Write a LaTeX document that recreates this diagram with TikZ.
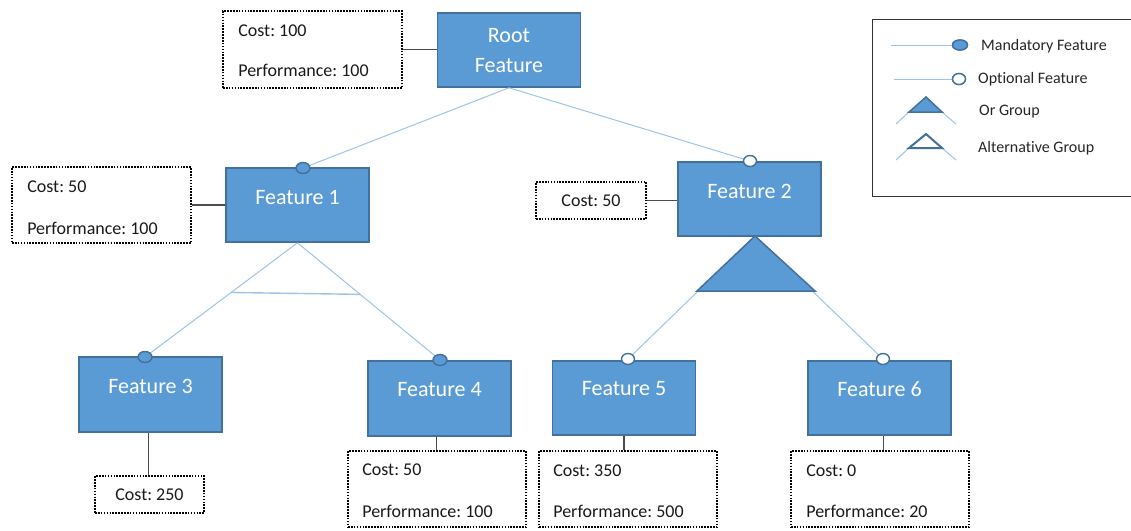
\documentclass[tikz,border=0pt]{standalone}
\usepackage{fontspec}
\setmainfont{Carlito}[Ligatures={NoCommon}]
\frenchspacing
\usetikzlibrary{calc,shapes.geometric}
\definecolor{fillblue}{HTML}{5B9BD5}
\definecolor{edgeblue}{HTML}{41719C}
\definecolor{linkblue}{HTML}{9DC3E6}
\definecolor{conngray}{HTML}{4D4D4D}
\begin{document}
\frenchspacing
\begin{tikzpicture}[x=1pt,y=-1pt,
  featbox/.style={rectangle, draw=edgeblue, fill=fillblue, line width=1.6pt, minimum width=143pt, minimum height=74pt, inner sep=0pt},
  feattext/.style={text=white, font=\fontsize{22}{30}\selectfont, inner sep=0pt},
  infobox/.style={rectangle, draw=black, line width=1.8pt, dash pattern=on 1.6pt off 1.3pt, minimum width=178pt, minimum height=76pt, inner sep=0pt},
  infotext/.style={font=\fontsize{18}{22}\selectfont, text=black!90, anchor=west, inner sep=0pt},
  mand/.style={ellipse, draw=edgeblue, fill=fillblue, line width=1.4pt, minimum width=14pt, minimum height=11pt, inner sep=0pt},
  opt/.style={ellipse, draw=edgeblue, fill=white, line width=1.4pt, minimum width=13pt, minimum height=11pt, inner sep=0pt},
  link/.style={draw=linkblue, line width=1pt},
  conn/.style={draw=conngray, line width=1.1pt},
  legtext/.style={font=\fontsize{16}{19}\selectfont, anchor=west, inner sep=0pt, text=black!85},
  groupshape/.style={draw=edgeblue, line width=1.5pt}
]
\useasboundingbox (0,0) rectangle (1131,530);

% ---------- feature boxes ----------
\node[featbox] (root) at (509,50) {};
\node[featbox] (f1) at (297.5,205) {};
\node[featbox] (f2) at (749.5,199) {};
\node[featbox, minimum height=75pt] (f3) at (150.5,394.5) {};
\node[featbox, minimum height=75pt] (f4) at (439.5,398.5) {};
\node[featbox] (f5) at (624,398) {};
\node[featbox] (f6) at (879.5,398) {};

\node[feattext, align=center] (roott) at ([yshift=-1pt]root.center) {Root\\Feature};
\node[feattext] (f1t) at ([yshift=8pt]f1.center) {Feature 1};
\node[feattext] (f2t) at ([yshift=8pt]f2.center) {Feature 2};
\node[feattext] (f3t) at ([yshift=8pt]f3.center) {Feature 3};
\node[feattext] (f4t) at ([yshift=9pt]f4.center) {Feature 4};
\node[feattext] (f5t) at ([yshift=9pt]f5.center) {Feature 5};
\node[feattext] (f6t) at ([yshift=9pt]f6.center) {Feature 6};

% ---------- attachment points ----------
\coordinate (m1) at (303,168);
\coordinate (o2) at (750,161);
\coordinate (m3) at (145,357);
\coordinate (m4) at (440,360);
\coordinate (o5) at (628,359);
\coordinate (o6) at (883,359);
\coordinate (gapex) at (755,236);
\coordinate (gL) at (697,291);
\coordinate (gR) at (815,291);

% ---------- links ----------
\draw[link] (root.south) -- (m1);
\draw[link] (root.south) -- (o2);
\draw[link] (f1.south) -- (m3);
\draw[link] (f1.south) -- (m4);
\draw[link, line width=1.4pt] ($(f1.south)!0.435!(m3)$) -- ($(f1.south)!0.44!(m4)$);
\draw[link] (gapex) -- (o5);
\draw[link] (gapex) -- (o6);
\draw[groupshape, fill=fillblue] (gapex) -- (gL) -- (gR) -- cycle;

% ---------- circles ----------
\node[mand] (cm1) at (m1) {};
\node[opt] (co2) at (o2) {};
\node[mand] (cm3) at (m3) {};
\node[mand] (cm4) at (m4) {};
\node[opt] (co5) at (o5) {};
\node[opt] (co6) at (o6) {};

% ---------- info boxes ----------
\node[infobox, minimum width=179pt, minimum height=77pt] (i0) at (312.5,49.5) {};
\node[infobox, minimum width=179pt] (i1) at (101.5,205) {};
\node[infobox, minimum width=110pt, minimum height=37pt] (i2) at (591,200.5) {};
\node[infobox, minimum width=109pt, minimum height=37pt] (i3) at (149.5,494.5) {};
\node[infobox] (i4) at (437,489) {};
\node[infobox] (i5) at (628,489) {};
\node[infobox] (i6) at (880,489) {};

\node[infotext] (i0a) at ([xshift=16pt,yshift=-21pt]i0.north west) {Cost: 100};
\node[infotext] (i0b) at ([xshift=16pt,yshift=-60pt]i0.north west) {Performance: 100};
\node[infotext] (i1a) at ([xshift=16pt,yshift=-21pt]i1.north west) {Cost: 50};
\node[infotext] (i1b) at ([xshift=16pt,yshift=-62pt]i1.north west) {Performance: 100};
\node[infotext, anchor=center] (i2a) at (i2.center) {Cost: 50};
\node[infotext, anchor=center] (i3a) at (i3.center) {Cost: 250};
\node[infotext] (i4a) at ([xshift=15pt,yshift=-20pt]i4.north west) {Cost: 50};
\node[infotext] (i4b) at ([xshift=15pt,yshift=-61pt]i4.north west) {Performance: 100};
\node[infotext] (i5a) at ([xshift=15pt,yshift=-21pt]i5.north west) {Cost: 350};
\node[infotext] (i5b) at ([xshift=15pt,yshift=-61pt]i5.north west) {Performance: 500};
\node[infotext] (i6a) at ([xshift=16pt,yshift=-21pt]i6.north west) {Cost: 0};
\node[infotext] (i6b) at ([xshift=16pt,yshift=-61pt]i6.north west) {Performance: 20};

% ---------- info connectors ----------
\draw[conn] (i0.east) -- (i0.east -| root.west);
\draw[conn] (i1.east) -- (i1.east -| f1.west);
\draw[conn] (i2.east) -- (i2.east -| f2.west);
\draw[conn] ([xshift=-2pt]f3.south) -- ([xshift=-2pt]f3.south |- i3.north);
\draw[conn] ([xshift=-3pt]f4.south) -- ([xshift=-3pt]f4.south |- i4.north);
\draw[conn] (f5.south) -- (f5.south |- i5.north);
\draw[conn] ([xshift=4pt]f6.south) -- ([xshift=4pt]f6.south |- i6.north);

% ---------- legend ----------
\draw[draw=black!80, line width=1pt] (1131,19) -- (872,19) -- (872,196) -- (1131,196);

\coordinate (lmA) at (891,45);
\node[mand, minimum width=15pt, minimum height=10pt] (lmB) at (960,45) {};
\draw[link] (lmA) -- (lmB);
\node[mand, minimum width=15pt, minimum height=10pt] at (960,45) {};
\node[legtext] (lmT) at (981,46) {Mandatory Feature};

\coordinate (loA) at (894,79);
\node[opt] (loB) at (959,79) {};
\draw[link] (loA) -- (loB);
\node[opt] at (959,79) {};
\node[legtext] (loT) at (978,79) {Optional Feature};

\coordinate (orApex) at (926,97);
\coordinate (orL) at (909,112);
\coordinate (orR) at (942,112);
\coordinate (orLend) at (896,124);
\coordinate (orRend) at (956,124);
\draw[link] (orL) -- (orLend);
\draw[link] (orR) -- (orRend);
\draw[groupshape, fill=fillblue] (orApex) -- (orL) -- (orR) -- cycle;
\node[legtext] (orT) at (979,112) {Or Group};

\coordinate (alApex) at (926,134);
\coordinate (alL) at (909,148);
\coordinate (alR) at (942,148);
\coordinate (alLend) at (896,160);
\coordinate (alRend) at (956,160);
\draw[link] (alL) -- (alLend);
\draw[link] (alR) -- (alRend);
\draw[groupshape, line width=2pt, fill=white] (alApex) -- (alL) -- (alR) -- cycle;
\node[legtext] (alT) at (978,148) {Alternative Group};
\end{tikzpicture}
\end{document}
